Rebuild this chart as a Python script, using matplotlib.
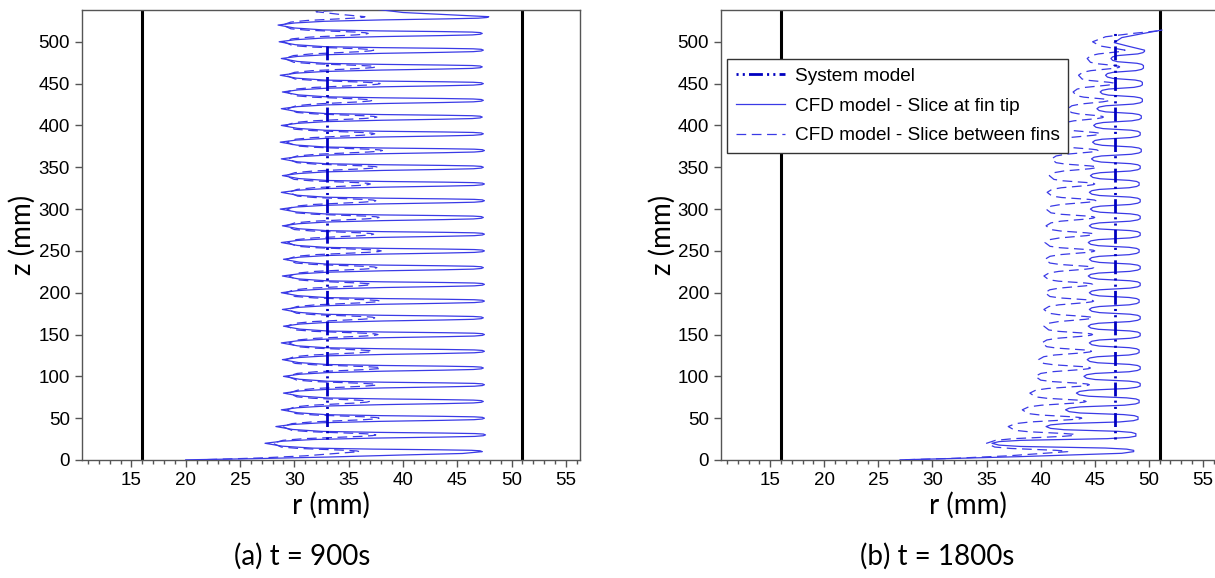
import numpy as np
import matplotlib.pyplot as plt
from matplotlib.ticker import MultipleLocator

plt.rcParams['font.family'] = ['Liberation Sans', 'DejaVu Sans']
plt.rcParams['lines.scale_dashes'] = False

# tube walls (mm)
wall_r = [16, 51]

# ---- (a) t = 900 s ----
a_lobe_z = [10, 30, 50, 70, 90, 110, 130, 150, 170, 190, 210, 230, 250, 270,
            290, 310, 330, 350, 370, 390, 410, 430, 450, 470, 490, 510, 530]
a_tip_r = [47.3, 47.6, 47.5, 47.4, 47.5, 47.4, 47.5, 47.5, 47.4, 47.5, 47.5, 47.4, 47.5, 47.5,
           47.4, 47.5, 47.5, 47.4, 47.5, 47.4, 47.3, 47.4, 47.4, 47.3, 47.4, 47.3, 47.9]
a_notch_r = [27.3, 28.3, 28.8, 29.0, 29.0, 28.9, 28.8, 29.0, 28.9, 28.8, 28.9, 29.0, 28.8,
             28.9, 28.7, 28.8, 28.9, 28.8, 28.7, 28.8, 28.8, 28.9, 28.7, 28.8, 28.6, 28.5]
a_trail_r, a_trail_z = [20.0, 26.0, 33.0, 40.0, 45.5], [0.2, 1.5, 3.5, 6.0, 7.8]
a_top_r, a_top_z = [44.0, 40.0, 37.5], [532.5, 535.0, 539.0]

a_dash_tip_r = [36.0, 37.5, 37.8, 36.9, 37.6, 38.0, 37.2, 37.7, 37.4, 37.9, 37.1, 37.6, 38.0, 37.3,
                37.8, 37.5, 37.0, 37.7, 38.1, 37.4, 37.6, 37.2, 37.9, 37.5, 37.3, 36.8, 36.5]
a_dash_notch_r = [28.0, 28.9, 29.3, 29.5, 29.4, 29.2, 29.5, 29.3, 29.4, 29.2, 29.5, 29.3, 29.4,
                  29.2, 29.3, 29.5, 29.2, 29.4, 29.3, 29.2, 29.4, 29.3, 29.2, 29.1, 29.0, 28.9]
a_dash_trail_r, a_dash_trail_z = [22.0, 27.0, 31.0], [0.5, 2.5, 5.0]
a_dash_top_r, a_dash_top_z = [34.0, 32.0, 35.5], [533.0, 536.0, 539.0]

a_sys_r, a_sys_z = [33.0, 33.0], [25, 500]

# ---- (b) t = 1800 s ----
b_lobe_z = [10, 30, 50, 70, 90, 110, 130, 150, 170, 190, 210, 230, 250,
            270, 290, 310, 330, 350, 370, 390, 410, 430, 450, 470, 490]
b_tip_r = [48.6, 48.8, 49.0, 49.1, 49.2, 49.2, 49.1, 49.2, 49.2, 49.1, 49.2, 49.2, 49.1,
           49.2, 49.2, 49.2, 49.1, 49.2, 49.3, 49.2, 49.3, 49.4, 49.4, 49.5, 49.6]
b_notch_r = [35.5, 40.5, 42.3, 43.3, 44.0, 44.3, 44.5, 44.4, 44.5, 44.5, 44.4, 44.5,
             44.4, 44.5, 44.6, 44.5, 44.6, 44.7, 44.8, 44.9, 45.2, 45.5, 46.0, 46.5]
b_trail_r, b_trail_z = [27.0, 31.0, 38.0, 44.0, 47.5], [0.2, 1.5, 4.0, 6.5, 8.0]
b_top_r, b_top_z = [48.0, 46.8, 47.5, 49.5, 51.2], [495.0, 499.0, 505.0, 510.0, 514.0]

b_dash_tip_r = [42.5, 43.2, 43.8, 44.2, 44.5, 44.6, 44.7, 44.8, 44.8, 44.9, 44.8, 44.9, 45.0,
                44.9, 45.0, 45.1, 45.0, 45.2, 45.3, 45.5, 45.8, 46.3, 46.8, 47.3, 47.8]
b_dash_notch_r = [35.0, 37.0, 38.3, 39.0, 39.5, 39.8, 40.1, 40.3, 40.3, 40.4, 40.3, 40.4,
                  40.4, 40.5, 40.5, 40.6, 40.8, 41.0, 41.4, 41.9, 42.5, 43.0, 43.5, 44.3]
b_dash_trail_r, b_dash_trail_z = [27.5, 32.0, 37.0], [0.3, 2.0, 5.0]
b_dash_top_r, b_dash_top_z = [45.5, 44.8, 46.0, 48.5, 50.8], [495.0, 500.0, 506.0, 510.0, 513.0]

b_sys_r, b_sys_z = [46.9, 46.9], [25, 511]

# half-lobe shapes: (fraction notch->tip, dz from lobe centre)
thin_lower = [(0, -10), (0.08, -7.5), (0.22, -5.5), (0.5, -3.8), (0.8, -2.6), (0.95, -1.8), (0.99, -1.0)]
thin_upper = [(0.99, 1.0), (0.95, 1.6), (0.8, 2.2), (0.5, 3.0), (0.22, 4.2), (0.08, 6.5)]
dash_lower = [(0, -10), (0.1, -6.5), (0.3, -4.5), (0.6, -3), (0.85, -1.8), (0.97, -0.8)]
dash_upper = [(0.97, 0.8), (0.85, 1.6), (0.6, 2.6), (0.3, 3.8), (0.1, 5.5)]
fat_lower = [(0, -10), (0.05, -8), (0.2, -6.5), (0.5, -5.5), (0.8, -4.5), (0.95, -3), (1.0, -1.5)]
fat_upper = [(1.0, 1.5), (0.95, 3), (0.8, 4.3), (0.5, 5.2), (0.2, 6.2), (0.05, 7.8)]


def front(trail_r, trail_z, lobe_z, tip_r, notch_r, top_r, top_z, lower, upper):
    r, z = list(trail_r), list(trail_z)
    for k, (zc, rt) in enumerate(zip(lobe_z, tip_r)):
        if k > 0:
            rn = notch_r[k - 1]
            for u, dz in lower:
                r.append(rn + u * (rt - rn))
                z.append(zc + dz)
        r.append(rt)
        z.append(zc)
        if k < len(notch_r):
            rn = notch_r[k]
            for u, dz in upper:
                r.append(rn + u * (rt - rn))
                z.append(zc + dz)
    r += list(top_r)
    z += list(top_z)
    return np.array(r), np.array(z)


blue = '#3a3ae6'
sys_blue = '#0000c0'
sys_style = (0, (1.5, 3, 1.5, 3, 10, 3))
dash_style = (0, (7, 4))

fig = plt.figure(figsize=(12.15, 5.78), dpi=100)
ax_a = fig.add_axes([82 / 1215, 118 / 578, 498 / 1215, 450 / 578])
ax_b = fig.add_axes([721 / 1215, 118 / 578, 496 / 1215, 450 / 578])

panels = [
    (ax_a, a_sys_r, a_sys_z,
     front(a_trail_r, a_trail_z, a_lobe_z, a_tip_r, a_notch_r, a_top_r, a_top_z, thin_lower, thin_upper),
     front(a_dash_trail_r, a_dash_trail_z, a_lobe_z, a_dash_tip_r, a_dash_notch_r,
           a_dash_top_r, a_dash_top_z, dash_lower, dash_upper)),
    (ax_b, b_sys_r, b_sys_z,
     front(b_trail_r, b_trail_z, b_lobe_z, b_tip_r, b_notch_r, b_top_r, b_top_z, fat_lower, fat_upper),
     front(b_dash_trail_r, b_dash_trail_z, b_lobe_z, b_dash_tip_r, b_dash_notch_r,
           b_dash_top_r, b_dash_top_z, dash_lower, dash_upper)),
]

for ax, sr, sz, (tr, tz), (dr, dz) in panels:
    for w in wall_r:
        ax.axvline(w, color='black', lw=2.2, zorder=1)
    ax.plot(dr, dz, color=blue, lw=0.9, ls=dash_style, label='CFD model - Slice between fins', zorder=2)
    ax.plot(tr, tz, color=blue, lw=0.9, label='CFD model - Slice at fin tip', zorder=3)
    ax.plot(sr, sz, color=sys_blue, lw=2, ls=sys_style, label='System model', zorder=4)
    ax.set_xlim(10.45, 56.3)
    ax.set_ylim(0, 538)
    ax.xaxis.set_minor_locator(MultipleLocator(1))
    ax.yaxis.set_major_locator(MultipleLocator(50))
    ax.set_xticks(range(15, 60, 5))
    ax.tick_params(which='both', direction='out', top=False, right=False, color='#555555',
                   labelsize=13.5, width=1)
    ax.tick_params(which='major', length=5)
    ax.tick_params(which='minor', length=3)
    for s in ax.spines.values():
        s.set_color('#555555')
        s.set_linewidth(1)

h, l = ax_b.get_legend_handles_labels()
order = [2, 1, 0]
ax_b.legend([h[i] for i in order], [l[i] for i in order], loc='upper left',
            bbox_to_anchor=(0.012, 0.891), borderaxespad=0, fancybox=False,
            edgecolor='#333333', framealpha=1, fontsize=13.7, handlelength=2.6,
            handletextpad=0.5, labelspacing=0.65, borderpad=0.45)
ax_b.get_legend().get_frame().set_linewidth(1)

lab = dict(family=['Lato', 'DejaVu Sans'], fontsize=20, ha='center', va='center')
fig.text(22 / 1215, 1 - 235 / 578, 'z (mm)', rotation=90, **lab)
fig.text(662 / 1215, 1 - 235 / 578, 'z (mm)', rotation=90, **lab)
fig.text(331 / 1215, 1 - 505 / 578, 'r (mm)', **lab)
fig.text(968 / 1215, 1 - 505 / 578, 'r (mm)', **lab)
fig.text(302 / 1215, 1 - 556 / 578, '(a) t = 900s', **lab)
fig.text(937 / 1215, 1 - 556 / 578, '(b) t = 1800s', **lab)

fig.savefig('out.png', dpi=100)
